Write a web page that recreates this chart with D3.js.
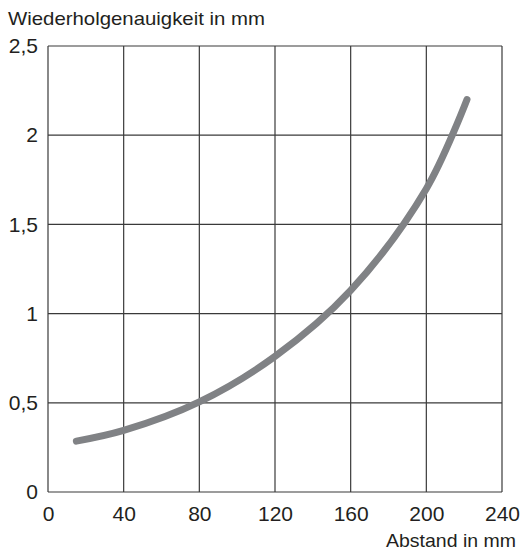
<!DOCTYPE html>
<html><head><meta charset="utf-8">
<script src="https://cdn.jsdelivr.net/npm/d3@7"></script>
<style>body{margin:0;background:#fff}svg{display:block}text{font-family:"Liberation Sans",Arial,sans-serif;fill:#231f20}</style>
</head><body><svg id="c" width="526" height="554"></svg>
<script>
const xTicks = [0, 40, 80, 120, 160, 200, 240];
const yTicks = [0, 0.5, 1, 1.5, 2, 2.5];
const yTickLabels = ["0", "0,5", "1", "1,5", "2", "2,5"];
const curveX = [15, 40, 80, 120, 160, 200, 221.5];
const curveY = [0.285, 0.345, 0.505, 0.76, 1.13, 1.70, 2.2];
const yTitle = "Wiederholgenauigkeit in mm";
const xTitle = "Abstand in mm";

const svg = d3.select("#c");
const L = 48, R = 502, T = 46, B = 492;
const x = d3.scaleLinear().domain([0, 240]).range([L, R]);
const y = d3.scaleLinear().domain([0, 2.5]).range([B, T]);

const g = svg.append("g");
g.selectAll("line.v").data(xTicks).join("line")
  .attr("x1", d => x(d)).attr("x2", d => x(d)).attr("y1", T).attr("y2", B)
  .attr("stroke", "#3a3a3a").attr("stroke-width", 1.2);
g.selectAll("line.h").data(yTicks).join("line")
  .attr("y1", d => y(d)).attr("y2", d => y(d)).attr("x1", L).attr("x2", R)
  .attr("stroke", "#3a3a3a").attr("stroke-width", 1.2);

const xa = svg.append("g").attr("transform", `translate(0,${B})`)
  .call(d3.axisBottom(x).tickValues(xTicks).tickSize(0).tickPadding(14.5).tickFormat(d => String(d)));
xa.select(".domain").remove();
xa.selectAll("text").style("font-size", "21px").attr("fill", "#231f20");

const ya = svg.append("g").attr("transform", `translate(${L},0)`)
  .call(d3.axisLeft(y).tickValues(yTicks).tickSize(0).tickPadding(10).tickFormat((d, i) => yTickLabels[i]));
ya.select(".domain").remove();
ya.selectAll("text").style("font-size", "21px").attr("fill", "#231f20");

const pts = curveX.map((v, i) => [v, curveY[i]]);
svg.append("path").datum(pts)
  .attr("d", d3.line().x(d => x(d[0])).y(d => y(d[1])).curve(d3.curveCatmullRom.alpha(0.5)))
  .attr("fill", "none").attr("stroke", "#808285").attr("stroke-width", 7).attr("stroke-linecap", "round");

svg.append("text").attr("x", 8).attr("y", 25).style("font-size", "19px")
  .attr("textLength", 257).attr("lengthAdjust", "spacingAndGlyphs").text(yTitle);
svg.append("text").attr("x", 386).attr("y", 547).style("font-size", "19px")
  .attr("textLength", 130).attr("lengthAdjust", "spacingAndGlyphs").text(xTitle);
</script></body></html>
